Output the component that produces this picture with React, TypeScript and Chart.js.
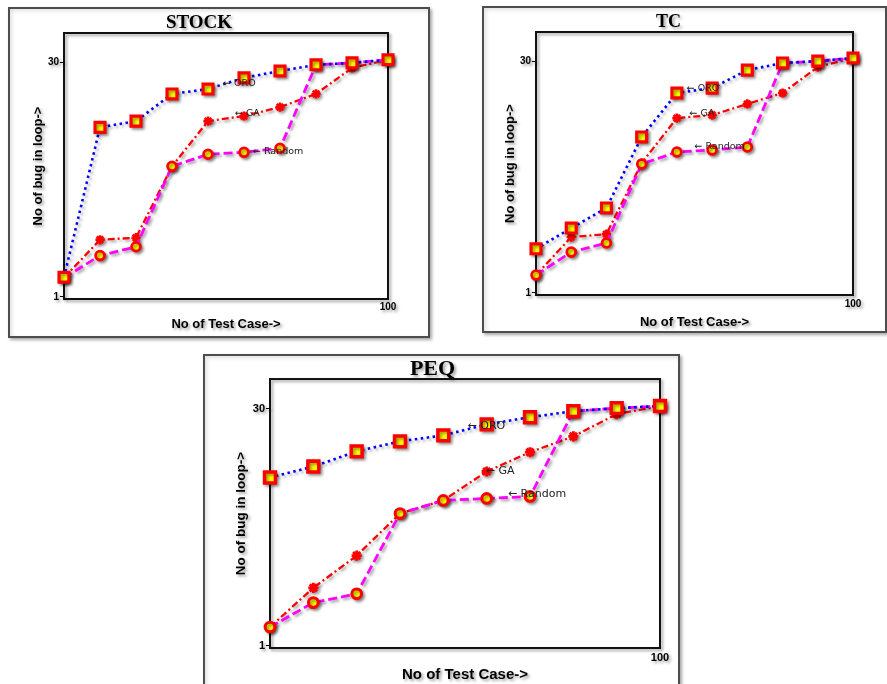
import React, { useEffect, useRef } from "react";
import { Chart, registerables } from "chart.js";
Chart.register(...registerables);

// ---- data ----
const testCases = [10, 20, 30, 40, 50, 60, 70, 80, 90, 100];
const yTickValues = [1, 30];
const xTickValues = [100];

const stockORO = [1.33, 11.7, 12.8, 19.0, 20.4, 24.0, 26.5, 29.0, 29.8, 31.2];
const stockGA = [1.32, 2.29, 2.36, 6.65, 12.8, 13.8, 15.7, 19.0, 27.7, 31.2];
const stockRandom = [1.32, 1.82, 2.07, 6.65, 7.92, 8.15, 8.64, 29.0, 29.8, 31.2];

const tcORO = [1.91, 2.59, 3.48, 9.86, 18.8, 20.2, 26.3, 29.2, 30.0, 31.4];
const tcGA = [1.3, 2.27, 2.37, 6.73, 13.0, 13.6, 16.0, 18.8, 27.5, 31.4];
const tcRandom = [1.3, 1.82, 2.08, 6.63, 7.91, 8.14, 8.51, 29.2, 30.0, 31.4];

const peqORO = [11.2, 13.1, 16.3, 18.8, 20.5, 24.0, 26.6, 29.0, 30.3, 31.2];
const peqGA = [1.31, 2.3, 3.65, 6.68, 8.06, 12.2, 16.1, 20.2, 27.8, 31.2];
const peqRandom = [1.31, 1.86, 2.11, 6.68, 8.06, 8.29, 8.53, 29.0, 30.3, 31.2];

const noteTexts = ["\u2190 ORO", "\u2190 GA", "\u2190 Random"];
const stockNoteX = [54.2, 57.5, 62.5];
const stockNoteY = [22, 14.4, 8.27];
const tcNoteX = [52.8, 53.6, 55];
const tcNoteY = [20.2, 14.0, 8.6];
const peqNoteX = [55.6, 59.8, 64.9];
const peqNoteY = [23.4, 12.2, 8.8];

const SANS = '"Liberation Sans", Arial, "DejaVu Sans", sans-serif';
const NOTE = '"DejaVu Sans", "Liberation Sans", sans-serif';
const SERIF = '"Liberation Serif", "Times New Roman", serif';

type PanelCfg = {
  title: string;
  oro: number[];
  ga: number[];
  rnd: number[];
  noteX: number[];
  noteY: number[];
  box: { left: number; top: number; width: number; height: number };
  cv: { left: number; top: number; width: number; height: number };
  yW: number;
  padRight: number;
  xH: number;
  titleSize: number;
  titleLH: number;
  titlePad: { top: number; bottom: number };
  yTitleSize: number;
  yTitlePad: number;
  xTitleSize: number;
  xTitlePad: number;
  xTickPad: number;
  tickSize: number;
  noteSize: number;
  ptScale: number;
};

const pts = (arr: number[]) => testCases.map((x, i) => ({ x, y: arr[i] }));

function ChartPanel({ cfg }: { cfg: PanelCfg }) {
  const ref = useRef<HTMLCanvasElement | null>(null);
  useEffect(() => {
    if (!ref.current) return;
    const s = cfg.ptScale;
    const shadowPlugin = {
      id: "shadowAll",
      beforeDraw(chart: any) {
        const c = chart.ctx;
        c.save();
        c.shadowColor = "rgba(0,0,0,0.38)";
        c.shadowBlur = 3;
        c.shadowOffsetX = 2;
        c.shadowOffsetY = 2;
      },
      beforeDatasetsDraw(chart: any) {
        const c = chart.ctx;
        const a = chart.chartArea;
        c.save();
        c.strokeStyle = "#111";
        c.lineWidth = 2;
        c.strokeRect(a.left, a.top, a.right - a.left, a.bottom - a.top);
        c.restore();
      },
      afterDraw(chart: any) {
        chart.ctx.restore();
      },
    };
    const notePlugin = {
      id: "notes",
      afterDraw(chart: any) {
        const c = chart.ctx;
        const x = chart.scales.x;
        const y = chart.scales.y;
        c.save();
        c.font = `${cfg.noteSize}px ${NOTE}`;
        c.fillStyle = "#222";
        c.textAlign = "left";
        c.textBaseline = "middle";
        noteTexts.forEach((t, i) => {
          c.fillText(t, x.getPixelForValue(cfg.noteX[i]), y.getPixelForValue(cfg.noteY[i]));
        });
        c.restore();
      },
    };
    const chart = new Chart(ref.current, {
      type: "line",
      data: {
        datasets: [
          {
            label: "ORO",
            data: pts(cfg.oro),
            borderColor: "#0000ff",
            borderWidth: 2.6,
            borderDash: [2.5, 3.5],
            pointStyle: "rect",
            pointRadius: 7 * s,
            pointBorderColor: "#ff0000",
            pointBackgroundColor: "#ffff00",
            pointBorderWidth: 3.2 * s,
            tension: 0,
            clip: false,
          },
          {
            label: "Random",
            data: pts(cfg.rnd),
            borderColor: "#ff00ff",
            borderWidth: 2.8,
            borderDash: [9, 4],
            pointStyle: "circle",
            pointRadius: 4.4 * s,
            pointBorderColor: "#ff0000",
            pointBackgroundColor: "#ffff00",
            pointBorderWidth: 2.8 * s,
            tension: 0,
            clip: false,
          },
          {
            label: "GA",
            data: pts(cfg.ga),
            borderColor: "#ff0000",
            borderWidth: 2.3,
            borderDash: [7, 3, 2, 3],
            pointStyle: "star",
            pointRadius: 4.6 * s,
            pointBorderColor: "#ff0000",
            pointBackgroundColor: "#ff0000",
            pointBorderWidth: 2.6 * s,
            tension: 0,
            clip: false,
          },
        ],
      } as any,
      options: {
        animation: false,
        responsive: false,
        devicePixelRatio: 1,
        layout: { padding: { left: 0, top: 0, bottom: 0, right: cfg.padRight } },
        plugins: {
          legend: { display: false },
          tooltip: { enabled: false },
          title: {
            display: true,
            text: cfg.title,
            color: "#000",
            font: { family: SERIF, size: cfg.titleSize, weight: "bold", lineHeight: cfg.titleLH },
            padding: cfg.titlePad,
          },
        },
        scales: {
          x: {
            type: "linear",
            min: 10,
            max: 100,
            border: { display: false },
            grid: { display: false, drawTicks: false },
            afterBuildTicks: (sc: any) => {
              sc.ticks = xTickValues.map((v) => ({ value: v }));
            },
            afterFit: (sc: any) => {
              sc.height = cfg.xH;
            },
            ticks: {
              color: "#000",
              padding: cfg.xTickPad,
              maxRotation: 0,
              autoSkip: false,
              font: { family: SANS, size: cfg.tickSize, weight: "bold", lineHeight: 1 },
              callback: (v: any) => String(v),
            },
            title: {
              display: true,
              text: "No of Test Case->",
              color: "#000",
              font: { family: SANS, size: cfg.xTitleSize, weight: "bold", lineHeight: 1 },
              padding: { top: 0, bottom: cfg.xTitlePad },
            },
          },
          y: {
            type: "logarithmic",
            min: 0.97,
            max: 46,
            border: { display: false },
            grid: { drawOnChartArea: false, drawTicks: true, tickLength: 4, color: "#000", lineWidth: 1 },
            afterBuildTicks: (sc: any) => {
              sc.ticks = yTickValues.map((v) => ({ value: v }));
            },
            afterFit: (sc: any) => {
              sc.width = cfg.yW;
            },
            ticks: {
              color: "#000",
              padding: 1,
              autoSkip: false,
              font: { family: SANS, size: cfg.tickSize, weight: "bold", lineHeight: 1 },
              callback: (v: any) => String(v),
            },
            title: {
              display: true,
              text: "No of bug in loop->",
              color: "#000",
              font: { family: SANS, size: cfg.yTitleSize, weight: "bold", lineHeight: 1 },
              padding: { top: cfg.yTitlePad, bottom: 0 },
            },
          },
        },
      } as any,
      plugins: [shadowPlugin, notePlugin],
    });
    return () => chart.destroy();
  }, [cfg]);

  return (
    <>
      <div
        style={{
          position: "absolute",
          left: cfg.box.left,
          top: cfg.box.top,
          width: cfg.box.width,
          height: cfg.box.height,
          boxSizing: "border-box",
          border: "2px solid #4d4d4d",
          background: "#fff",
          boxShadow: "2px 2px 3px rgba(0,0,0,0.35), inset 2px 2px 4px rgba(0,0,0,0.12)",
        }}
      />
      <canvas
        ref={ref}
        width={cfg.cv.width}
        height={cfg.cv.height}
        style={{
          position: "absolute",
          left: cfg.cv.left,
          top: cfg.cv.top,
          width: cfg.cv.width,
          height: cfg.cv.height,
        }}
      />
    </>
  );
}

const panels: PanelCfg[] = [
  {
    title: "STOCK",
    oro: stockORO,
    ga: stockGA,
    rnd: stockRandom,
    noteX: stockNoteX,
    noteY: stockNoteY,
    box: { left: 8, top: 7, width: 422, height: 331 },
    cv: { left: 10, top: 9, width: 418, height: 327 },
    yW: 54,
    padRight: 40,
    xH: 37,
    titleSize: 19,
    titleLH: 1,
    titlePad: { top: 5, bottom: 0 },
    yTitleSize: 13,
    yTitlePad: 21.5,
    xTitleSize: 13,
    xTitlePad: 5.5,
    xTickPad: 3,
    tickSize: 10,
    noteSize: 9.5,
    ptScale: 1,
  },
  {
    title: "TC",
    oro: tcORO,
    ga: tcGA,
    rnd: tcRandom,
    noteX: tcNoteX,
    noteY: tcNoteY,
    box: { left: 482, top: 6, width: 405, height: 327 },
    cv: { left: 484, top: 8, width: 401, height: 323 },
    yW: 52,
    padRight: 32,
    xH: 36,
    titleSize: 18,
    titleLH: 1,
    titlePad: { top: 5.5, bottom: 0.5 },
    yTitleSize: 13,
    yTitlePad: 19.5,
    xTitleSize: 13,
    xTitlePad: 2.5,
    xTickPad: 4,
    tickSize: 10,
    noteSize: 9.5,
    ptScale: 1,
  },
  {
    title: "PEQ",
    oro: peqORO,
    ga: peqGA,
    rnd: peqRandom,
    noteX: peqNoteX,
    noteY: peqNoteY,
    box: { left: 203, top: 354, width: 477, height: 345 },
    cv: { left: 205, top: 356, width: 473, height: 328 },
    yW: 65,
    padRight: 18,
    xH: 36,
    titleSize: 22,
    titleLH: 0.91,
    titlePad: { top: 3, bottom: 0 },
    yTitleSize: 13.5,
    yTitlePad: 30,
    xTitleSize: 15,
    xTitlePad: 1.5,
    xTickPad: 4,
    tickSize: 11,
    noteSize: 11,
    ptScale: 1.1,
  },
];

export default function App() {
  return (
    <div
      style={{
        position: "absolute",
        left: 0,
        top: 0,
        width: 887,
        height: 684,
        overflow: "hidden",
        background: "#fff",
      }}
    >
      {panels.map((p) => (
        <ChartPanel key={p.title} cfg={p} />
      ))}
    </div>
  );
}
